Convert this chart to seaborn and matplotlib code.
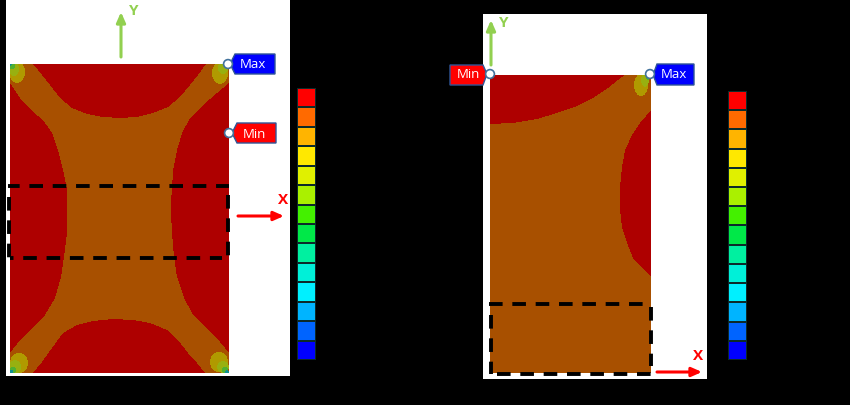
import numpy as np
import matplotlib
matplotlib.use("Agg")
import matplotlib.pyplot as plt
import seaborn as sns
from matplotlib.colors import ListedColormap
from matplotlib.patches import Circle, Polygon, Rectangle
from matplotlib.path import Path

W, H = 850, 405

# --- colour scale (top to bottom) ---
scale_colors = ['#ff0000', '#ff6a00', '#ffb400', '#ffe800', '#e0f000', '#aaf000', '#44f000',
                '#00e848', '#00f0a0', '#00f0d8', '#00f0ff', '#00b4ff', '#0064ff', '#0000ff']
scale_levels = list(range(14))

# --- field levels: 0 red, 1 brown, 2 olive, 3 yellow green, 4 green, 5 teal ---
field_colors = ['#ae0000', '#a85000', '#b09a00', '#98b010', '#50b030', '#109090']

# --- contour boundaries (pixels) ---
left_top = [(33, 64), (42, 75), (50, 85), (60, 98), (72, 108), (87, 114), (103, 117), (120, 118),
            (137, 117), (153, 113), (168, 107), (180, 97), (190, 85), (198, 75), (206, 64)]
left_bottom = [(33, 373), (42, 362), (52, 348), (63, 333), (77, 325), (93, 321), (113, 319), (133, 320),
               (150, 323), (167, 330), (178, 340), (188, 353), (197, 363), (205, 373)]
left_side_l = [(10, 83), (20, 98), (33, 112), (43, 120), (52, 133), (58, 150), (63, 170), (67, 190), (67, 200),
               (67, 213), (67, 233), (64, 257), (61, 277), (55, 298), (45, 315), (33, 328), (20, 340), (10, 353)]
left_side_r = [(229, 83), (217, 93), (203, 105), (190, 118), (182, 133), (177, 150), (173, 170), (172, 190),
               (171, 200), (171, 213), (172, 233), (174, 257), (177, 277), (184, 298), (193, 315), (207, 328),
               (220, 342), (229, 353)]
right_corner = [(490, 75), (490, 124), (513, 123), (537, 119), (557, 113), (577, 106), (593, 98), (608, 88),
                (618, 80), (625, 75)]
right_side = [(651, 110), (640, 123), (632, 135), (625, 150), (622, 167), (620, 187), (620, 200), (620, 210),
              (622, 227), (627, 243), (633, 258), (642, 268), (651, 276)]

# corner hot spots: cx, cy, rx, ry, level
left_spots = [(17, 72, 8, 11, 2), (14, 69, 5, 7, 3), (12, 66, 3, 3, 4), (10, 64, 2, 2, 5),
              (220, 73, 8, 11, 2), (223, 68, 5, 6, 3), (226, 65, 2, 3, 4),
              (19, 363, 9, 10, 2), (15, 367, 6, 7, 3), (13, 370, 3, 3, 4), (11, 372, 2.5, 2.5, 5),
              (219, 362, 9, 10, 2), (223, 367, 6, 6, 3), (225, 370, 3, 3, 4), (227, 372, 2, 2, 5)]
right_spots = [(641, 85, 7, 11, 2), (645, 80, 4, 7, 3), (648, 77, 2, 3, 4)]


def px_axes(x0, y0, x1, y1, zorder=1):
    # axes placed in picture pixels
    return fig.add_axes([x0 / W, 1 - y1 / H, (x1 - x0) / W, (y1 - y0) / H], zorder=zorder)


def build_field(x0, y0, x1, y1, regions, spots):
    xs, ys = np.meshgrid(np.arange(x0, x1) + 0.5, np.arange(y0, y1) + 0.5)
    pts = np.column_stack([xs.ravel(), ys.ravel()])
    grid = np.ones(xs.shape, dtype=int)
    for poly in regions:
        grid[Path(poly).contains_points(pts).reshape(xs.shape)] = 0
    for cx, cy, rx, ry, level in spots:
        grid[((xs - cx) / rx) ** 2 + ((ys - cy) / ry) ** 2 <= 1] = level
    return grid


def draw_field(x0, y0, x1, y1, regions, spots):
    ax = px_axes(x0, y0, x1, y1, zorder=2)
    sns.heatmap(build_field(x0, y0, x1, y1, regions, spots), ax=ax, cbar=False, vmin=0, vmax=5,
                cmap=ListedColormap(field_colors), xticklabels=False, yticklabels=False)
    ax.axis('off')


def draw_scale(x0, y0, x1, y1):
    ax = px_axes(x0, y0, x1, y1, zorder=2)
    sns.heatmap(np.array(scale_levels).reshape(-1, 1), ax=ax, cbar=False, linewidths=1.2, linecolor='#0c2a2a',
                cmap=ListedColormap(scale_colors), xticklabels=False, yticklabels=False)
    ax.axis('off')


def tag(ax, pts, color, label, tx, ty, dot):
    ax.add_patch(Polygon(pts, closed=True, facecolor=color, edgecolor='#2f5597', lw=1.0))
    ax.text(tx, ty, label, color='white', fontsize=9.5, ha='center', va='center', family='Open Sans')
    ax.add_patch(Circle(dot, 4.4, facecolor='white', edgecolor='#41719c', lw=1.2, zorder=5))


def arrow(ax, start, end, color, lw=2.2):
    ax.annotate('', xy=end, xytext=start,
                arrowprops=dict(arrowstyle='-|>,head_width=0.22,head_length=0.5', color=color, lw=lw,
                                shrinkA=0, shrinkB=0))


def dashed(ax, xs, ys, phase=0):
    # 13 px on, 10 px off, phase in line widths
    ax.plot(xs, ys, color='black', lw=2.8, ls=(phase, (3.5, 2.5)), solid_capstyle='butt')


sns.set_theme(style='white')
fig = plt.figure(figsize=(W / 100, H / 100), dpi=100, facecolor='black')

# --- back layer: white panels ---
back = px_axes(0, 0, W, H, zorder=1)
back.set_xlim(0, W)
back.set_ylim(H, 0)
back.axis('off')
back.add_patch(Rectangle((6, 0), 284, 375.5, facecolor='white', edgecolor='none'))
back.add_patch(Rectangle((483, 14), 224, 364.5, facecolor='white', edgecolor='none'))

# --- contour fields and scales ---
draw_field(10, 64, 229, 373, [left_top, left_bottom, left_side_l, left_side_r], left_spots)
draw_field(490, 75, 651, 373, [right_corner, right_side], right_spots)
draw_scale(297, 88, 316, 360)
draw_scale(728, 91, 747, 360)

# --- top layer: dashes, tags, arrows ---
over = px_axes(0, 0, W, H, zorder=3)
over.set_xlim(0, W)
over.set_ylim(H, 0)
over.axis('off')
over.patch.set_alpha(0)

dashed(over, [8, 229], [186, 186], phase=0.5)
dashed(over, [10, 222], [258, 258], phase=2.6)
dashed(over, [9, 9], [197, 258])
dashed(over, [228, 228], [195, 256])
dashed(over, [489, 643], [304, 304])
dashed(over, [497, 651], [374, 374])
dashed(over, [491, 491], [315, 374])
dashed(over, [651, 651], [307, 366])

tag(over, [(230, 64), (235, 54), (275, 54), (275, 74), (235, 74)], '#0000ff', 'Max', 253, 65, (228, 64))
tag(over, [(232, 133), (237, 123), (276, 123), (276, 143), (237, 143)], '#ff0000', 'Min', 254, 134, (229, 133))
tag(over, [(450, 65), (483, 65), (487, 74), (483, 85), (450, 85)], '#ff0000', 'Min', 468, 75, (490, 74))
tag(over, [(657, 64), (694, 64), (694, 85), (657, 85), (653, 75)], '#0000ff', 'Max', 674, 75, (650, 74))

arrow(over, (121, 57), (121, 12), '#92d050')
arrow(over, (238, 216), (284, 216), '#ff0000')
arrow(over, (491, 65), (491, 20), '#92d050')
arrow(over, (657, 372), (702, 372), '#ff0000')

label = dict(fontsize=11, fontweight='bold', ha='center', va='center', family='Open Sans')
over.text(134, 11, 'Y', color='#92d050', **label)
over.text(283, 200, 'X', color='#ff0000', **label)
over.text(504, 23, 'Y', color='#92d050', **label)
over.text(698, 356, 'X', color='#ff0000', **label)

fig.savefig('out.png', dpi=100, facecolor='black')
